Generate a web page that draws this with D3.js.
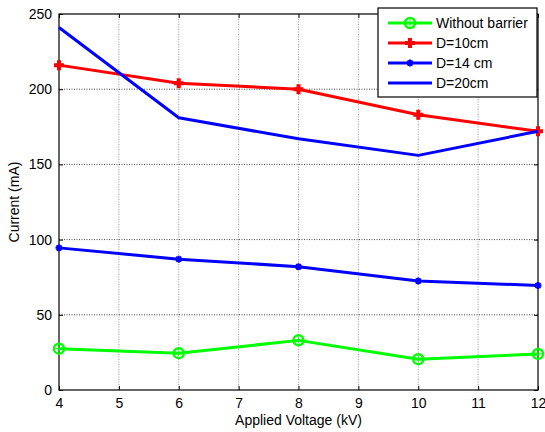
<!DOCTYPE html>
<html><head><meta charset="utf-8">
<script src="https://cdn.jsdelivr.net/npm/d3@7"></script>
<style>body{margin:0;background:#fff}svg{font-family:"Liberation Sans",Arial,sans-serif}</style>
</head><body><svg id="c" width="545" height="432"></svg>
<script>
const voltages = [4, 6, 8, 10, 12];
const withoutBarrier = [27.5, 24.5, 33, 20.5, 24];
const d10 = [216, 204, 200, 183, 172];
const d14 = [94.5, 87, 82, 72.5, 69.5];
const d20 = [241, 181, 167, 156, 172];
const xTicks = [4, 5, 6, 7, 8, 9, 10, 11, 12];
const yTicks = [0, 50, 100, 150, 200, 250];
const seriesNames = ["Without barrier", "D=10cm", "D=14 cm", "D=20cm"];

const series = [
  {name: seriesNames[0], values: withoutBarrier, color: "#00ff00", marker: "circle"},
  {name: seriesNames[1], values: d10, color: "#ff0000", marker: "plus"},
  {name: seriesNames[2], values: d14, color: "#0000ff", marker: "star"},
  {name: seriesNames[3], values: d20, color: "#0000ff", marker: "none"}
];

const FS = 14;
const svg = d3.select("#c");
const L = 59, R = 538, T = 14, B = 390;
const x = d3.scaleLinear().domain([4, 12]).range([L, R]);
const y = d3.scaleLinear().domain([0, 250]).range([B, T]);

// grid
const g = svg.append("g");
g.selectAll(".gx").data(xTicks.slice(1, -1)).enter().append("line")
  .attr("x1", d => x(d)).attr("x2", d => x(d)).attr("y1", T).attr("y2", B)
  .attr("stroke", "#999").attr("stroke-width", 1).attr("stroke-dasharray", "1,1.5");
g.selectAll(".gy").data(yTicks.slice(1, -1)).enter().append("line")
  .attr("y1", d => y(d)).attr("y2", d => y(d)).attr("x1", L).attr("x2", R)
  .attr("stroke", "#444").attr("stroke-width", 1).attr("stroke-dasharray", "1,1.5");

// axes
const xAxis = d3.axisBottom(x).tickValues(xTicks).tickSize(-4).tickPadding(8).tickFormat(d3.format("d"));
const yAxis = d3.axisLeft(y).tickValues(yTicks).tickSize(-4).tickPadding(7);
const xa = svg.append("g").attr("transform", `translate(0,${B})`).call(xAxis);
const ya = svg.append("g").attr("transform", `translate(${L},0)`).call(yAxis);
const xt = svg.append("g").attr("transform", `translate(0,${T})`).call(d3.axisTop(x).tickValues(xTicks).tickSize(-4).tickFormat(""));
const yr = svg.append("g").attr("transform", `translate(${R},0)`).call(d3.axisRight(y).tickValues(yTicks).tickSize(-4).tickFormat(""));
[xa, ya, xt, yr].forEach(a => {
  a.select(".domain").remove();
  a.selectAll("line").attr("stroke", "#000");
  a.selectAll("text").attr("font-size", FS).attr("fill", "#000").attr("font-family", "Liberation Sans, Arial, sans-serif");
});
svg.append("rect").attr("x", L).attr("y", T).attr("width", R - L).attr("height", B - T)
  .attr("fill", "none").attr("stroke", "#000").attr("stroke-width", 1.2);

svg.append("text").attr("x", (L + R) / 2).attr("y", 425).attr("text-anchor", "middle")
  .attr("font-size", FS).text("Applied Voltage (kV)");
svg.append("text").attr("transform", `translate(19,${(T + B) / 2}) rotate(-90)`).attr("text-anchor", "middle")
  .attr("font-size", FS).text("Current (mA)");

function drawMarker(sel, type, color, cx, cy) {
  if (type === "circle") {
    sel.append("circle").attr("cx", cx).attr("cy", cy).attr("r", 5).attr("fill", "none").attr("stroke", color).attr("stroke-width", 2.5);
    sel.append("path").attr("d", `M${cx-3},${cy}H${cx+3}M${cx},${cy-3}V${cy+3}`).attr("stroke", color).attr("stroke-width", 1);
  } else if (type === "plus") {
    sel.append("path").attr("d", `M${cx-5},${cy}H${cx+5}M${cx},${cy-5}V${cy+5}`).attr("stroke", color).attr("stroke-width", 4);
  } else if (type === "star") {
    sel.append("path").attr("d", `M${cx-3.5},${cy}H${cx+3.5}M${cx},${cy-3.5}V${cy+3.5}M${cx-2.5},${cy-2.5}L${cx+2.5},${cy+2.5}M${cx-2.5},${cy+2.5}L${cx+2.5},${cy-2.5}`).attr("stroke", color).attr("stroke-width", 2);
  }
}

const line = d3.line().x((d, i) => x(voltages[i])).y(d => y(d));
series.forEach(s => {
  svg.append("path").datum(s.values).attr("d", line).attr("fill", "none")
    .attr("stroke", s.color).attr("stroke-width", 3).attr("stroke-linejoin", "round");
  const mg = svg.append("g");
  s.values.forEach((v, i) => drawMarker(mg, s.marker, s.color, x(voltages[i]), y(v)));
});

// legend
const lg = svg.append("g");
lg.append("rect").attr("x", 378).attr("y", 8).attr("width", 159).attr("height", 89)
  .attr("fill", "#fff").attr("stroke", "#000").attr("stroke-width", 1.2);
series.forEach((s, i) => {
  const ly = 23 + i * 20;
  lg.append("line").attr("x1", 388).attr("x2", 432).attr("y1", ly).attr("y2", ly)
    .attr("stroke", s.color).attr("stroke-width", 3);
  drawMarker(lg, s.marker, s.color, 410, ly);
  lg.append("text").attr("x", 436).attr("y", ly + 5).attr("font-size", FS).text(s.name);
});
</script></body></html>
